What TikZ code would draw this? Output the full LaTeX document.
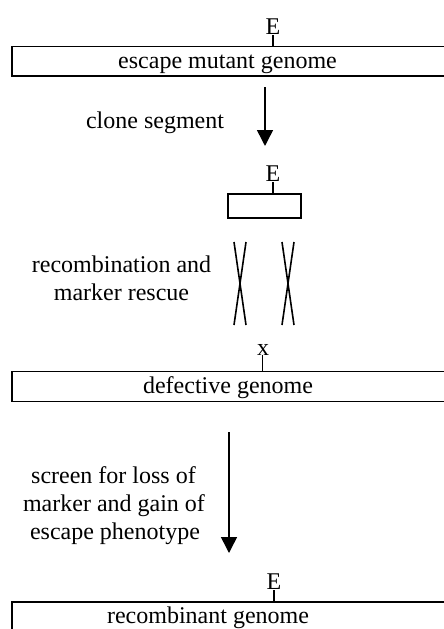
\documentclass[tikz,border=0pt]{standalone}
\usepackage{fontspec}
\setmainfont{Liberation Serif}
\usetikzlibrary{arrows.meta}
\begin{document}
\begin{tikzpicture}[x=1pt,y=-1pt,
  lbl/.style={font=\fontsize{24}{28}\selectfont, inner sep=0pt, align=center},
  genome/.style={line width=1.4pt},
  tick/.style={line width=1.5pt},
  strand/.style={line width=1.6pt},
  flow/.style={line width=1.5pt, -{Triangle[length=16pt,width=16pt]}},
]
\useasboundingbox (0,0) rectangle (444,629);
\clip (0,0) rectangle (444,629);

% escape mutant genome
\draw[genome] (12,46.7) rectangle (470,76);
\node[lbl, anchor=base] (mutant) at (227.5,68.5) {escape mutant genome};
\node[lbl, anchor=base] (e1) at (273,34) {E};
\draw[tick] (273,35) -- (273,46.7);

% cloning step
\coordinate (a1s) at (265,87);
\coordinate (a1e) at (265,146);
\draw[flow] (a1s) -- (a1e);
\node[lbl, anchor=base] (clone) at (155,128) {clone segment};

% cloned segment
\draw[genome] (228,194) rectangle (301,218);
\node[lbl, anchor=base] (e2) at (273,181) {E};
\draw[tick] (273,182) -- (273,194);

% crossover marks
\draw[strand] (234,242) -- (246,325);
\draw[strand] (246,242) -- (234,325);
\draw[strand] (282,242) -- (294,325);
\draw[strand] (294,242) -- (282,325);
\node[lbl, anchor=base] (rec1) at (121.5,272) {recombination and};
\node[lbl, anchor=base] (rec2) at (121.5,300) {marker rescue};

% defective genome
\draw[genome] (12,371.7) rectangle (470,401.7);
\node[lbl, anchor=base] (defective) at (228,393) {defective genome};
\node[lbl, anchor=base] (x1) at (263,355) {x};
\draw[tick] (262.7,355) -- (262.7,371.7);

% screening step
\coordinate (a2s) at (229,432);
\coordinate (a2e) at (229,553);
\draw[flow] (a2s) -- (a2e);
\node[lbl, anchor=base] (scr1) at (113.5,483) {screen for loss of};
\node[lbl, anchor=base] (scr2) at (114,511) {marker and gain of};
\node[lbl, anchor=base] (scr3) at (115,539) {escape phenotype};

% recombinant genome
\draw[genome] (12,602) rectangle (470,660);
\node[lbl, anchor=base] (recomb) at (208,623) {recombinant genome};
\node[lbl, anchor=base] (e3) at (274,589) {E};
\draw[tick] (274,590) -- (274,602);
\end{tikzpicture}
\end{document}
